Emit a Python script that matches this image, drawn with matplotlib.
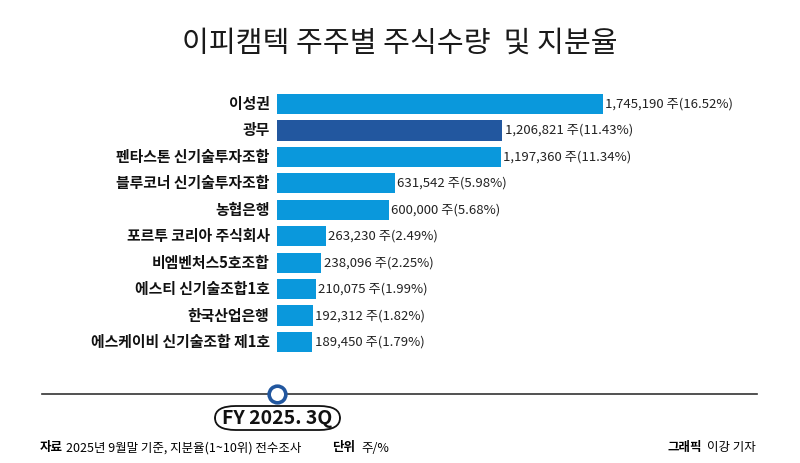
import matplotlib
matplotlib.use('Agg')
from matplotlib import pyplot as plt
from matplotlib.patches import FancyBboxPatch

plt.rcParams['font.family'] = ['Noto Sans CJK KR', 'DejaVu Sans']

holders = ['이성권', '광무', '펜타스톤 신기술투자조합', '블루코너 신기술투자조합', '농협은행',
           '포르투 코리아 주식회사', '비엠벤처스5호조합', '에스티 신기술조합1호',
           '한국산업은행', '에스케이비 신기술조합 제1호']
shares = [1745190, 1206821, 1197360, 631542, 600000,
          263230, 238096, 210075, 192312, 189450]
ratios = [16.52, 11.43, 11.34, 5.98, 5.68, 2.49, 2.25, 1.99, 1.82, 1.79]
highlight = '광무'

light = '#0a98dc'
dark = '#22579f'

W, H = 800, 463
fig = plt.figure(figsize=(W / 100, H / 100), dpi=100)

def fx(px):
    return px / W

def fy(py):
    return 1 - py / H

# bar area
ax = fig.add_axes([fx(277), fy(355.2), fx(480), (355.2 - 90.8) / H])
ypos = list(range(len(holders)))
colors = [dark if h == highlight else light for h in holders]
ax.barh(ypos, shares, height=0.76, color=colors)
ax.set_ylim(len(holders) - 0.5, -0.5)
ax.set_xlim(0, 480 / 1.868e-4)
ax.axis('off')

for y, h, s, r in zip(ypos, holders, shares, ratios):
    ax.text(-0.0155, y, h, transform=ax.get_yaxis_transform(), ha='right', va='center',
            fontsize=10.7, fontweight='bold', color='#111111')
    ax.text(s + 12000, y, f'{s:,} 주({r:.2f}%)', ha='left', va='center',
            fontsize=9.5, color='#222222')

# title
fig.text(0.5, fy(44), '이피캠텍 주주별 주식수량  및 지분율', ha='center', va='center',
         fontsize=21, color='#1a1a1a', fontweight='light')

# timeline
fig.add_artist(plt.Line2D([fx(42), fx(757)], [fy(394), fy(394)], color='#333333', lw=1.2))
circ = plt.Line2D([fx(277)], [fy(394)], marker='o', markersize=12, markerfacecolor='white',
                  markeredgecolor='#22579f', markeredgewidth=2.6)
fig.add_artist(circ)

box = FancyBboxPatch((fx(215), fy(430)), fx(125), (430 - 406) / H,
                     boxstyle='round,pad=0,rounding_size=0.026', transform=fig.transFigure,
                     facecolor='white', edgecolor='#111111', lw=1.3)
fig.add_artist(box)
fig.text(fx(277.5), fy(418), 'FY 2025. 3Q', ha='center', va='center', fontsize=14,
         fontweight='bold', color='#111111')

# footer
fs = 9
fig.text(fx(40), fy(448), '자료', ha='left', va='center', fontsize=fs, fontweight='bold')
fig.text(fx(66), fy(448), '2025년 9월말 기준, 지분율(1~10위) 전수조사', ha='left', va='center', fontsize=fs)
fig.text(fx(332), fy(448), '단위', ha='left', va='center', fontsize=fs, fontweight='bold')
fig.text(fx(361), fy(448), '주/%', ha='left', va='center', fontsize=fs)
fig.text(fx(667), fy(448), '그래픽', ha='left', va='center', fontsize=fs, fontweight='bold')
fig.text(fx(707), fy(448), '이강 기자', ha='left', va='center', fontsize=fs)

fig.savefig('out.png', dpi=100)
